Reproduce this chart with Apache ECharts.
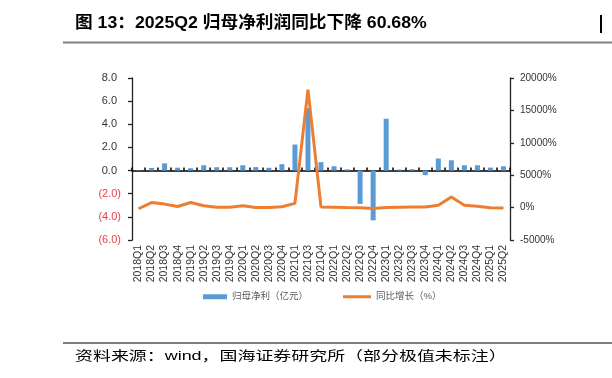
<!DOCTYPE html>
<html><head><meta charset="utf-8">
<script src="https://cdn.jsdelivr.net/npm/echarts@6/dist/echarts.min.js"></script>
<style>html,body{margin:0;padding:0;background:#fff}#c{width:612px;height:378px}</style>
</head><body><div id="c"></div>
<script>
const categories = ['2018Q1','2018Q2','2018Q3','2018Q4','2019Q1','2019Q2','2019Q3','2019Q4','2020Q1','2020Q2','2020Q3','2020Q4','2021Q1','2021Q3','2021Q4','2022Q1','2022Q2','2022Q3','2022Q4','2023Q1','2023Q2','2023Q3','2023Q4','2024Q1','2024Q2','2024Q3','2024Q4','2025Q1','2025Q2'];
const profit = [0.03,0.22,0.62,0.25,0.20,0.46,0.29,0.29,0.46,0.30,0.24,0.55,2.25,5.4,0.73,0.37,0.10,-2.88,-4.30,4.48,0.09,0.12,-0.40,1.04,0.89,0.46,0.46,0.26,0.37];
const yoy = [-180,780,540,170,790,280,70,70,280,0,20,120,650,18200,100,50,0,-30,-130,0,60,100,100,360,1650,360,220,-30,-60.68];
const leftAxis = {min:-6, max:8, interval:2};
const rightAxis = {min:-5000, max:20000, interval:5000};
const titleText = '图 13：2025Q2 归母净利润同比下降 60.68%';
const sourceText = '资料来源：wind，国海证券研究所（部分极值未标注）';
const seriesNames = ['归母净利（亿元）','同比增长（%）'];

const chart = echarts.init(document.getElementById('c'), null, {renderer:'canvas'});
const CJK = '"Liberation Sans","Noto Sans CJK SC",sans-serif';
chart.setOption({
  animation:false,
  backgroundColor:'#fff',
  textStyle:{fontFamily:CJK},
  grid:{left:132, right:102, top:78, bottom:138},
  graphic:[
    {type:'text', x:75, y:23, scaleX:1.04, style:{text:titleText, font:'bold 17px '+CJK, fill:'#000', verticalAlign:'middle'}},
    {type:'line', shape:{x1:63,y1:42.5,x2:612,y2:42.5}, style:{stroke:'#808080', lineWidth:2}},
    {type:'rect', shape:{x:600,y:15,width:2,height:18}, style:{fill:'#000'}},
    {type:'line', shape:{x1:63,y1:343,x2:612,y2:343}, style:{stroke:'#555', lineWidth:1.5}},
    {type:'text', x:75, y:356, scaleX:1.38, style:{text:sourceText, font:'13px '+CJK, fill:'#000', verticalAlign:'middle'}}
  ],
  legend:[
    {data:[{name:seriesNames[0], icon:'rect'}], left:203, top:292, padding:0, itemWidth:24, itemHeight:5, itemGap:5, textStyle:{fontSize:9.5, color:'#595959'}},
    {data:[{name:seriesNames[1], icon:'rect'}], left:343, top:292, padding:0, itemWidth:28, itemHeight:3, textStyle:{fontSize:9.5, color:'#595959'}}
  ],
  xAxis:[
    {type:'category', data:categories, position:'bottom',
     axisLine:{onZero:true, onZeroAxisIndex:0, lineStyle:{color:'#000', width:1.5}},
     axisTick:{show:true, inside:true, length:3, interval:0, lineStyle:{color:'#000', width:1.5}},
     axisLabel:{show:false}, splitLine:{show:false}},
    {type:'category', data:categories, position:'bottom',
     axisLine:{show:false, onZero:false}, axisTick:{show:false},
     axisLabel:{rotate:90, interval:0, fontSize:10.5, color:'#333', margin:5}, splitLine:{show:false}}
  ],
  yAxis:[
    {type:'value', min:leftAxis.min, max:leftAxis.max, interval:leftAxis.interval, position:'left',
     axisLine:{show:true, lineStyle:{color:'#222', width:1.3}},
     axisTick:{show:true, length:4, lineStyle:{color:'#222', width:1.3}},
     splitLine:{show:false},
     axisLabel:{margin:11, formatter:function(v){return v<0 ? '{n|('+Math.abs(v).toFixed(1)+')}' : '{p|'+v.toFixed(1)+'}';},
       rich:{p:{color:'#333', fontSize:11, padding:[0,4,0,0]}, n:{color:'#e8404a', fontSize:11}}}},
    {type:'value', min:rightAxis.min, max:rightAxis.max, interval:rightAxis.interval, position:'right',
     axisLine:{show:true, lineStyle:{color:'#222', width:1.3}},
     axisTick:{show:true, length:4, lineStyle:{color:'#222', width:1.3}},
     splitLine:{show:false},
     axisLabel:{margin:10, fontSize:10, color:'#333', formatter:function(v){return String(v)+'%';}}}
  ],
  series:[
    {name:seriesNames[0], type:'bar', data:profit, xAxisIndex:0, yAxisIndex:0, barWidth:5, itemStyle:{color:'#5B9BD5'}},
    {name:seriesNames[1], type:'line', data:yoy, xAxisIndex:0, yAxisIndex:1, symbol:'none', itemStyle:{color:'#ED7D31'}, lineStyle:{width:3, color:'#ED7D31'}}
  ]
});
</script></body></html>
